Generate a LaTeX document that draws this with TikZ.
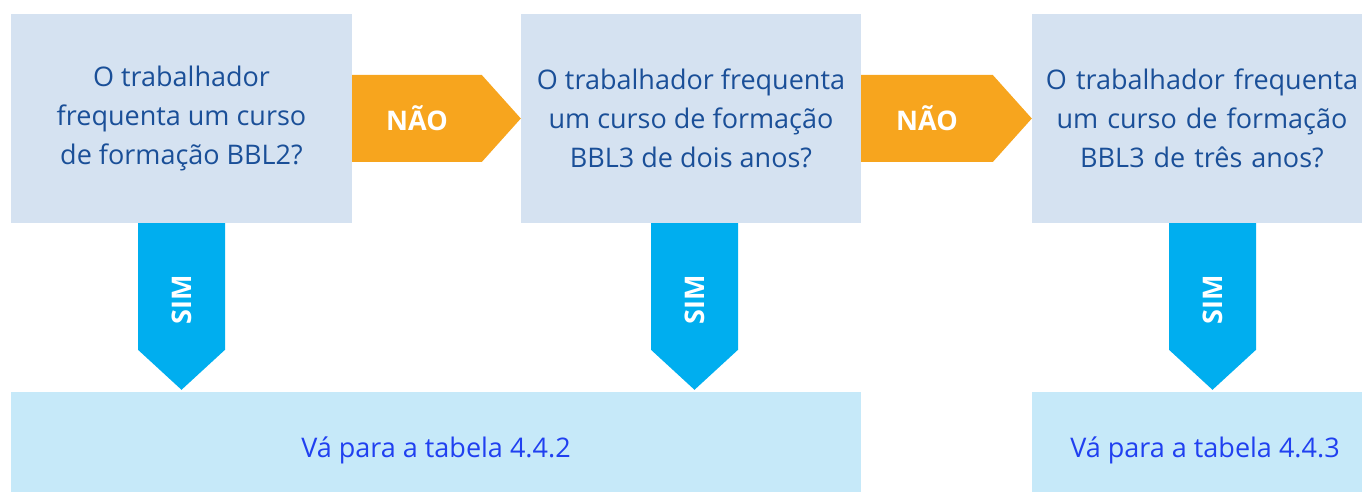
\documentclass[tikz,border=0pt]{standalone}
\usepackage{fontspec}
\setmainfont{Open Sans}
\usetikzlibrary{calc}
\definecolor{qfill}{HTML}{D5E2F1}
\definecolor{qtext}{HTML}{1A4F98}
\definecolor{nao}{HTML}{F7A51E}
\definecolor{sim}{HTML}{00AEEF}
\definecolor{rfill}{HTML}{C6E9F9}
\definecolor{rtext}{HTML}{2040F0}
\tikzset{
  qbox/.style={fill=qfill, text=qtext, inner sep=0pt, minimum height=209pt, align=center,
    font=\fontsize{27}{39}\selectfont},
  rbox/.style={fill=rfill, inner sep=0pt, minimum height=100pt},
  rlabel/.style={text=rtext, inner sep=0pt, font=\fontsize{27}{39}\selectfont},
  naoarrow/.style={fill=nao},
  simarrow/.style={fill=sim},
  naolabel/.style={text=white, font=\fontsize{27}{32}\selectfont\bfseries},
  simlabel/.style={text=white, rotate=90, font=\fontsize{27}{32}\selectfont\bfseries},
}
\begin{document}
\begin{tikzpicture}[x=1pt,y=1pt]
\useasboundingbox (0,0) rectangle (1362,492);
\node[qbox, minimum width=341pt] (q1) at (181.5,373.5) {O trabalhador\\frequenta um curso\\de formação BBL2?};
\node[qbox, minimum width=340pt] (q2) at (691,373.5) {O trabalhador frequenta\\um curso de formação\\BBL3 de dois anos?};
\node[qbox, minimum width=330pt, text width=330pt] (q3) at (1197,373.5) {\hspace*{10pt}O trabalhador frequenta\\\hspace*{10pt}um curso de formação\\\hspace*{10pt}BBL3 de três anos?};
\node[rbox, minimum width=850pt] (r1) at (436,50) {};
\node[rbox, minimum width=330pt] (r2) at (1197,50) {};
\node[rlabel] (l1) at ($(r1.center)+(0,-8)$) {Vá para a tabela 4.4.2};
\node[rlabel] (l2) at ($(r2.center)+(8,-8)$) {Vá para a tabela 4.4.3};
% NAO arrows
\fill[naoarrow] ($(q1.east)+(0,43.5)$) -- ($(q2.west)+(-39,43.5)$) -- (q2.west)
  -- ($(q2.west)+(-39,-43.5)$) -- ($(q1.east)+(0,-43.5)$) -- cycle;
\node[naolabel] (n1) at ($(q1.east)!0.5!($(q2.west)+(-39,0)$)$) {NÃO};
\fill[naoarrow] ($(q2.east)+(0,43.5)$) -- ($(q3.west)+(-39,43.5)$) -- (q3.west)
  -- ($(q3.west)+(-39,-43.5)$) -- ($(q2.east)+(0,-43.5)$) -- cycle;
\node[naolabel] (n2) at ($(q2.east)!0.5!($(q3.west)+(-39,0)$)$) {NÃO};
% SIM arrows
\coordinate (s1) at (q1.south);
\coordinate (t1) at ($(s1 |- r1.north)+(0,2)$);
\fill[simarrow] ($(s1)+(-43.5,0)$) -- ($(s1)+(43.5,0)$) -- ($(t1)+(43.5,40)$) -- (t1)
  -- ($(t1)+(-43.5,40)$) -- cycle;
\node[simlabel] (m1) at ($(s1)!0.5!($(t1)+(0,40)$)+(0,-13)$) {SIM};
\coordinate (s2) at ($(q2.south)+(3.5,0)$);
\coordinate (t2) at ($(s2 |- r1.north)+(0,2)$);
\fill[simarrow] ($(s2)+(-43.5,0)$) -- ($(s2)+(43.5,0)$) -- ($(t2)+(43.5,40)$) -- (t2)
  -- ($(t2)+(-43.5,40)$) -- cycle;
\node[simlabel] (m2) at ($(s2)!0.5!($(t2)+(0,40)$)+(0,-13)$) {SIM};
\coordinate (s3) at ($(q3.south)+(15.5,0)$);
\coordinate (t3) at ($(s3 |- r2.north)+(0,2)$);
\fill[simarrow] ($(s3)+(-43.5,0)$) -- ($(s3)+(43.5,0)$) -- ($(t3)+(43.5,40)$) -- (t3)
  -- ($(t3)+(-43.5,40)$) -- cycle;
\node[simlabel] (m3) at ($(s3)!0.5!($(t3)+(0,40)$)+(0,-13)$) {SIM};
\end{tikzpicture}
\end{document}
